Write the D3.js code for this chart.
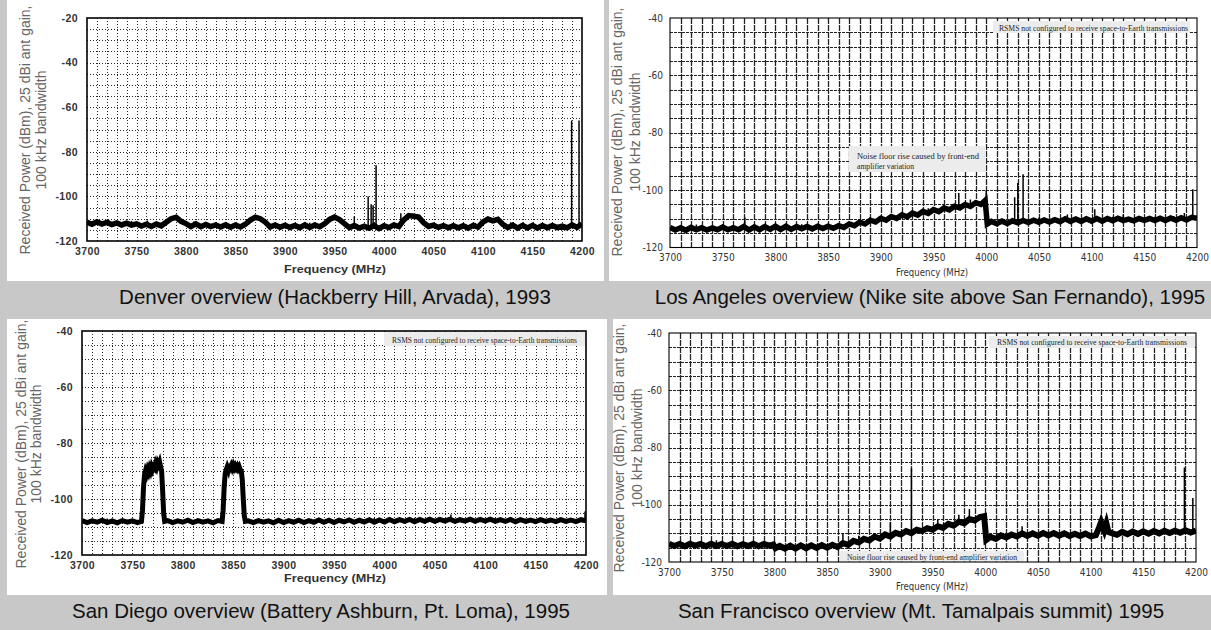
<!DOCTYPE html>
<html><head><meta charset="utf-8">
<script src="https://cdn.jsdelivr.net/npm/d3@7"></script>
<style>body{margin:0;background:#c8c8c8;}svg{display:block}</style>
</head><body>
<script>
// ---------------- DATA ----------------
const xTicks = [3700,3750,3800,3850,3900,3950,4000,4050,4100,4150,4200];
const yTicksDenver = [-120,-100,-80,-60,-40,-20];
const yTicksOther = [-120,-100,-80,-60,-40];

const captions = [
  "Denver overview (Hackberry Hill, Arvada), 1993",
  "Los Angeles overview (Nike site above San Fernando), 1995",
  "San Diego overview (Battery Ashburn, Pt. Loma), 1995",
  "San Francisco overview (Mt. Tamalpais summit) 1995"
];
const yLabelLines = ["Received Power (dBm), 25 dBi ant gain,", "100 kHz bandwidth"];
const xLabel = "Frequency (MHz)";
const noteRSMS = "RSMS not configured to receive space-to-Earth transmissions";
const noteNoiseLA = ["Noise floor rise caused by front-end", "amplifier variation"];
const noteNoiseSF = "Noise floor rise caused by front-end amplifier variation";

// Denver (MHz, dBm)
const denverFreq = [3700,3705,3710,3715,3720,3725,3730,3735,3740,3745,3750,3755,3760,3765,3770,3775,3780,3785,3790,3795,
3800,3805,3810,3815,3820,3825,3830,3835,3840,3845,3850,3855,3860,3865,3870,3875,3880,3885,3890,3895,
3900,3905,3910,3915,3920,3925,3930,3935,3940,3945,3950,3955,3960,3965,3970,3975,3980,3985,3990,3995,
4000,4005,4010,4015,4020,4025,4030,4035,4040,4045,4050,4055,4060,4065,4070,4075,4080,4085,4090,4095,
4100,4105,4110,4115,4120,4125,4130,4135,4140,4145,4150,4155,4160,4165,4170,4175,4180,4185,4190,4195,4200];
const denverPower = [-111.6,-112.5,-111.4,-112.4,-111.7,-112.6,-111.9,-112.8,-112.0,-112.9,
-112.3,-113.3,-112.5,-113.5,-112.4,-113.2,-111.6,-110.0,-109.4,-111.2,
-112.2,-113.5,-112.3,-113.6,-112.6,-113.5,-112.8,-113.7,-112.7,-113.8,
-112.8,-113.7,-112.5,-110.6,-109.3,-110.0,-111.5,-113.7,-112.8,-113.8,
-112.9,-113.9,-113.0,-114.0,-112.8,-113.9,-112.8,-113.6,-112.3,-110.3,
-109.3,-110.4,-112.2,-114.0,-113.1,-114.2,-113.4,-114.3,-113.1,-114.4,
-113.2,-114.0,-112.8,-113.5,-110.5,-108.6,-108.9,-109.3,-111.8,-113.5,
-112.9,-113.9,-113.1,-114.1,-113.2,-114.1,-113.2,-114.2,-113.0,-113.8,
-111.5,-110.2,-111.0,-110.3,-112.5,-114.0,-112.9,-114.2,-113.0,-114.1,
-113.0,-114.2,-113.1,-114.1,-113.1,-114.0,-113.3,-114.1,-112.8,-113.9,-112.4];
const denverSpikes = [[3722,-110.6],[3745,-111.0],[3761,-110.8],[3808,-111.3],[3840,-111.5],[3925,-111.8],[3970,-109.0],
[3984,-100.0],[3987,-103.5],[3989,-104.0],[3992,-86.0],[4017,-107.5],[4060,-112.0],[4092,-111.8],[4128,-111.6],
[4170,-112.0],[4189.5,-66.0],[4197,-66.0]];

// Los Angeles
const laFreq = [3700,3705,3710,3715,3720,3725,3730,3735,3740,3745,3750,3755,3760,3765,3770,3775,3780,3785,3790,3795,
3800,3805,3810,3815,3820,3825,3830,3835,3840,3845,3850,3855,3860,3865,3870,3875,3880,3885,3890,3895,
3900,3905,3910,3915,3920,3925,3930,3935,3940,3945,3950,3955,3960,3965,3970,3975,3980,3985,3990,3995,
3999,4001,
4005,4010,4015,4020,4025,4030,4035,4040,4045,4050,4055,4060,4065,4070,4075,4080,4085,4090,4095,4100,
4105,4110,4115,4120,4125,4130,4135,4140,4145,4150,4155,4160,4165,4170,4175,4180,4185,4190,4195,4200];
const laPower = [-113.0,-113.9,-113.1,-114.0,-113.0,-113.8,-113.1,-113.9,-113.2,-113.8,
-112.9,-113.8,-113.1,-113.8,-112.7,-113.9,-112.8,-113.8,-112.7,-113.7,
-112.6,-113.7,-112.6,-113.7,-112.7,-113.5,-112.7,-113.5,-112.6,-113.4,
-112.6,-113.3,-112.4,-113.0,-111.8,-112.4,-111.1,-111.8,-110.5,-111.1,
-109.8,-110.5,-109.2,-109.9,-108.6,-109.3,-108.0,-108.7,-107.4,-108.1,
-106.8,-107.5,-106.2,-106.9,-105.6,-106.2,-105.0,-105.7,-104.4,-105.0,
-103.6,-111.8,
-110.9,-111.7,-110.8,-111.6,-110.7,-111.4,-110.6,-111.3,-110.5,-111.2,
-110.4,-111.1,-110.3,-111.0,-110.0,-110.9,-110.1,-110.9,-110.0,-110.8,
-109.9,-110.8,-109.9,-110.7,-109.8,-110.6,-110.1,-110.7,-109.9,-110.5,
-109.9,-110.6,-109.8,-110.6,-109.7,-110.5,-109.6,-110.4,-109.5,-109.8];
const laSpikes = [[3725,-112.0],[3750,-111.9],[3771,-109.5],[3790,-111.8],[3825,-111.9],[3860,-111.6],[3890,-109.4],
[3910,-108.3],[3945,-106.3],[3974,-101.0],[3985,-103.3],[4000,-100.0],[4027,-102.5],[4030,-97.5],[4035,-94.5],
[4050,-109.5],[4077,-108.5],[4103,-106.7],[4120,-109.3],[4130,-108.5],[4160,-109.3],[4178,-109.0],[4188,-108.0],[4196,-99.7]];

// San Diego
const sdFreq = [3700,3705,3710,3715,3720,3725,3730,3735,3740,3745,3750,3755,
3759,3760,3761,3762,3763,3764,3765,3766,3767,3768,3769,3770,3771,3772,3773,3774,3775,3776,3777,3778,3779,3780,3781,3782,
3785,3790,3795,3800,3805,3810,3815,3820,3825,3830,3835,
3839,3840,3841,3842,3843,3844,3845,3846,3847,3848,3849,3850,3851,3852,3853,3854,3855,3856,3857,3858,3859,3860,3861,3862,
3865,3870,3875,3880,3885,3890,3895,3900,3905,3910,3915,3920,3925,3930,3935,3940,3945,3950,3955,3960,
3965,3970,3975,3980,3985,3990,3995,4000,4005,4010,4015,4020,4025,4030,4035,4040,4045,4050,4055,4060,
4065,4070,4075,4080,4085,4090,4095,4100,4105,4110,4115,4120,4125,4130,4135,4140,4145,4150,4155,4160,
4165,4170,4175,4180,4185,4190,4195,4200];
const sdPower = [-107.7,-108.4,-107.8,-108.3,-107.6,-108.4,-107.8,-108.5,-107.7,-108.3,-107.8,-108.4,
-108,-104,-96,-91.5,-90,-91,-89.5,-90.5,-89,-90,-88.5,-89.5,-88.5,-89,-87.5,-88.5,-87,-87.8,-86.8,-88.5,-90,-97,-105,-108,
-107.7,-108.4,-107.8,-108.3,-107.6,-108.4,-107.7,-108.3,-107.8,-108.5,-107.7,
-108,-104,-96,-91,-89.5,-88.5,-89.5,-87.5,-88.8,-88,-89,-88,-89,-88.2,-89,-88.3,-89.2,-88.5,-89.5,-90,-93,-100,-106,-108,
-107.8,-108.4,-107.7,-108.3,-107.8,-108.5,-107.6,-108.4,-107.7,-108.3,
-107.6,-108.4,-107.7,-108.3,-107.5,-108.3,-107.6,-108.4,-107.6,-108.2,
-107.5,-108.3,-107.6,-108.2,-107.4,-108.3,-107.5,-108.2,-107.3,-108.1,
-107.4,-108.0,-107.3,-108.1,-107.3,-108.0,-107.2,-108.0,-107.3,-107.9,
-107.2,-108.0,-107.4,-107.9,-107.2,-108.0,-107.3,-107.9,-107.2,-108.0,
-107.4,-108.0,-107.3,-108.1,-107.4,-108.0,-107.5,-108.1,-107.4,-108.0,
-107.5,-108.1,-107.4,-108.0,-107.5,-108.1,-107.4,-107.8];
const sdSpikes = [[3725,-107.0],[3990,-106.8],[4030,-106.7],[4066,-105.5],[4110,-106.8],[4140,-107.0],[4199,-104.5]];

// San Francisco
const sfFreq = [3700,3705,3710,3715,3720,3725,3730,3735,3740,3745,3750,3755,3760,3765,3770,3775,3780,3785,3790,3795,
3799,3801,
3805,3810,3815,3820,3825,3830,3835,3840,3845,3850,3855,3860,3865,3870,3875,3880,3885,3890,3895,3900,
3905,3910,3915,3920,3925,3930,3935,3940,3945,3950,3955,3960,3965,3970,3975,3980,3985,3990,3995,
3999,4001,
4005,4010,4015,4020,4025,4030,4035,4040,4045,4050,4055,4060,4065,4070,4075,4080,4085,4090,4095,4100,4105,
4108,4110,4113,4115,4117,
4120,4125,4130,4135,4140,4145,4150,4155,4160,4165,4170,4175,4180,4185,4190,4195,4200];
const sfPower = [-113.6,-114.4,-113.7,-114.5,-113.6,-114.3,-113.7,-114.5,-113.6,-114.4,
-113.7,-114.4,-113.6,-114.5,-113.8,-114.4,-113.6,-114.5,-113.7,-114.3,
-113.9,-115.2,
-114.4,-115.3,-114.3,-115.3,-114.2,-115.2,-114.2,-115.1,-114.1,-115.0,
-114.0,-114.8,-113.4,-114.0,-112.6,-113.2,-111.9,-112.5,-111.1,-111.8,
-110.4,-111.1,-109.8,-110.4,-109.2,-109.9,-108.7,-109.2,-108.2,-108.7,
-107.5,-108.1,-106.7,-107.3,-105.9,-106.5,-105.0,-105.5,-104.3,
-104.0,-112.3,
-111.2,-111.9,-110.7,-111.4,-110.4,-111.1,-110.0,-110.9,-110.0,-110.8,
-109.9,-110.7,-109.9,-110.8,-110.0,-110.9,-110.1,-110.9,-110.1,-111.0,-110.6,
-108,-106,-109,-106.5,-109.5,
-109.9,-110.5,-109.5,-110.3,-109.4,-110.2,-109.3,-110.1,-109.2,-110.0,
-109.1,-109.9,-109.1,-109.8,-108.9,-109.7,-109.0];
const sfSpikes = [[3745,-112.4],[3865,-110.0],[3880,-110.8],[3910,-106.0],[3930,-87.3],[3955,-105.2],[3975,-103.5],
[3985,-101.5],[4035,-107.5],[4189,-87.0],[4197,-97.6]];

// ---------------- LAYOUT / STYLE ----------------
const W = 1211, H = 630;
const svg = d3.select("body").append("svg").attr("width", W).attr("height", H);
svg.append("rect").attr("width", W).attr("height", H).attr("fill", "#c8c8c8");

const SANS = "'Liberation Sans', Arial, Helvetica, sans-serif";
const NARROW = "'Liberation Sans Narrow', 'Arial Narrow', 'DejaVu Sans Condensed', sans-serif";
const SERIF = "'Liberation Serif', 'Times New Roman', serif";

const panels = [
  {freq: denverFreq, power: denverPower, spikes: denverSpikes, yTicks: yTicksDenver, yDom: [-120,-20],
   box: [7,0,597,281], l: 87, r: 582, t: 18, b: 241, kind: "dot", lw: 5.5,
   ylx: [30,46], yly: 130, xTickY: 251, freqY: 273, freqX: 335, freqLen: 102,
   cap: captions[0], capX: 335, capY: 304},
  {freq: laFreq, power: laPower, spikes: laSpikes, yTicks: yTicksOther, yDom: [-120,-40],
   box: [609,0,602,281], l: 670, r: 1197, t: 18, b: 247.5, kind: "grid", lw: 5.5,
   ylx: [622,640], yly: 132, xTickY: 257, freqY: 276, freqX: 932, freqLen: 72,
   cap: captions[1], capX: 930, capY: 304},
  {freq: sdFreq, power: sdPower, spikes: sdSpikes, yTicks: yTicksOther, yDom: [-120,-40],
   box: [7,319,600,276], l: 82, r: 586, t: 331, b: 555, kind: "dot", lw: 5,
   ylx: [26,41], yly: 444, xTickY: 565, freqY: 582, freqX: 335, freqLen: 102,
   cap: captions[2], capX: 321, capY: 618},
  {freq: sfFreq, power: sfPower, spikes: sfSpikes, yTicks: yTicksOther, yDom: [-120,-40],
   box: [613,319,598,276], l: 669, r: 1196, t: 333, b: 562, kind: "grid", lw: 6,
   ylx: [624,642], yly: 448, xTickY: 572, freqY: 590, freqX: 932, freqLen: 72,
   cap: captions[3], capX: 921, capY: 618}
];

const notes = [
  {panel: 1, box: [993,21,197,12], lines: [noteRSMS], x: 999, ys: [30.5], lens: [189]},
  {panel: 1, box: [849,146,137,26], lines: noteNoiseLA, x: 857, ys: [158.5,168.5], lens: [122,57]},
  {panel: 2, box: [384,332,201,14], lines: [noteRSMS], x: 392, ys: [342.5], lens: [185]},
  {panel: 3, box: [989,336,206,12], lines: [noteRSMS], x: 997, ys: [344.5], lens: [190]},
  {panel: 3, box: [840,551,184,10.5], lines: [noteNoiseSF], x: 847, ys: [559.5], lens: [170]}
];

panels.forEach((p, i) => {
  const g = svg.append("g");
  g.append("rect").attr("x", p.box[0]).attr("y", p.box[1]).attr("width", p.box[2]).attr("height", p.box[3]).attr("fill", "#fff");

  const x = d3.scaleLinear().domain([3700, 4200]).range([p.l, p.r]);
  const y = d3.scaleLinear().domain(p.yDom).range([p.b, p.t]);
  const cid = "clip" + i;
  svg.append("defs").append("clipPath").attr("id", cid)
    .append("rect").attr("x", p.l).attr("y", p.t).attr("width", p.r - p.l).attr("height", p.b - p.t);

  // grid
  const vx = x.ticks(50).filter(v => v > 3700 && v < 4200);
  const hy = y.ticks((p.yDom[1] - p.yDom[0]) / 5).filter(v => v > p.yDom[0] && v < p.yDom[1]);
  const grid = g.append("g");
  const dot = p.kind === "dot";
  const vStyle = dot ? {c: "#000", d: "1,2", o: 0.85, w: 1} : {c: "#222", d: "6,1", o: 1, w: 1.3};
  const hStyle = dot ? {c: "#000", d: "1,2", o: 0.85, w: 1} : {c: "#222", d: "3,1", o: 1, w: 1.2};
  grid.selectAll("line.v").data(vx).join("line")
    .attr("x1", d => Math.round(x(d)) + 0.5).attr("x2", d => Math.round(x(d)) + 0.5)
    .attr("y1", p.t).attr("y2", p.b)
    .attr("stroke", vStyle.c).attr("stroke-dasharray", vStyle.d).attr("stroke-opacity", vStyle.o).attr("stroke-width", vStyle.w);
  grid.selectAll("line.h").data(hy).join("line")
    .attr("y1", d => Math.round(y(d)) + 0.5).attr("y2", d => Math.round(y(d)) + 0.5)
    .attr("x1", p.l).attr("x2", p.r)
    .attr("stroke", hStyle.c).attr("stroke-dasharray", hStyle.d).attr("stroke-opacity", hStyle.o).attr("stroke-width", hStyle.w);

  // notes (box covers grid)
  notes.filter(n => n.panel === i).forEach(n => {
    g.append("rect").attr("x", n.box[0]).attr("y", n.box[1]).attr("width", n.box[2]).attr("height", n.box[3])
      .attr("fill", "#ececec");
    n.lines.forEach((t, k) => {
      g.append("text").attr("x", n.x).attr("y", n.ys[k]).text(t)
        .attr("textLength", n.lens[k]).attr("lengthAdjust", "spacingAndGlyphs")
        .style("font-family", SERIF).style("font-size", "8px").attr("fill", "#222");
    });
  });

  // trace
  const pts = p.freq.map((f, k) => [f, p.power[k]]);
  const line = d3.line().x(d => x(d[0])).y(d => y(d[1]));
  const plot = g.append("g").attr("clip-path", `url(#${cid})`);
  plot.append("path").datum(pts).attr("d", line).attr("fill", "none")
    .attr("stroke", "#000").attr("stroke-width", p.lw).attr("stroke-linejoin", "miter");

  // spikes
  const bis = d3.bisector(d => d[0]).left;
  const baseAt = f => {
    const j = Math.max(1, Math.min(pts.length - 1, bis(pts, f)));
    const a = pts[j - 1], c = pts[j];
    return a[1] + (c[1] - a[1]) * (f - a[0]) / (c[0] - a[0]);
  };
  plot.selectAll("line.s").data(p.spikes).join("line")
    .attr("x1", d => x(d[0])).attr("x2", d => x(d[0]))
    .attr("y1", d => y(baseAt(d[0]))).attr("y2", d => y(d[1]))
    .attr("stroke", "#000").attr("stroke-width", 1.5);

  // frame
  g.append("rect").attr("x", p.l).attr("y", p.t).attr("width", p.r - p.l).attr("height", p.b - p.t)
    .attr("fill", "none").attr("stroke", "#000").attr("stroke-width", dot ? 1.6 : 1.1);

  // axes
  const tickFont = dot ? SANS : NARROW;
  const tickSize = dot ? 10.5 : 10;
  const ax = g.append("g").attr("transform", `translate(0,${p.b})`)
    .call(d3.axisBottom(x).tickValues(xTicks).tickSize(0).tickPadding(p.xTickY - p.b - 0.36 * tickSize).tickFormat(d => String(d)));
  ax.select(".domain").remove();
  ax.selectAll("text").style("font-family", tickFont).style("font-size", tickSize + "px")
    .style("font-weight", dot ? "bold" : "normal").style("letter-spacing", dot ? "0.4px" : "0px").attr("fill", "#333");

  const ay = g.append("g").attr("transform", `translate(${p.l},0)`)
    .call(d3.axisLeft(y).tickValues(p.yTicks).tickSize(0).tickPadding(dot ? 9 : 7).tickFormat(d => String(d)));
  ay.select(".domain").remove();
  ay.selectAll("text").style("font-family", tickFont).style("font-size", tickSize + "px")
    .style("font-weight", dot ? "bold" : "normal").style("letter-spacing", dot ? "0.4px" : "0px").attr("fill", "#333");

  // axis titles
  g.append("text").attr("x", p.freqX).attr("y", p.freqY).attr("text-anchor", "middle").text(xLabel)
    .attr("textLength", p.freqLen).attr("lengthAdjust", "spacingAndGlyphs")
    .style("font-family", dot ? SANS : NARROW).style("font-size", "10px")
    .style("font-weight", dot ? "bold" : "normal").attr("fill", "#333");
  yLabelLines.forEach((t, k) => {
    g.append("text").attr("transform", `translate(${p.ylx[k]},${p.yly}) rotate(-90)`)
      .attr("text-anchor", "middle").text(t)
      .style("font-family", SANS).style("font-size", "14px").attr("fill", "#666");
  });

  // caption
  svg.append("text").attr("x", p.capX).attr("y", p.capY).attr("text-anchor", "middle").text(p.cap)
    .style("font-family", SANS).style("font-size", "20.5px").attr("fill", "#111");
});
</script>
</body></html>
